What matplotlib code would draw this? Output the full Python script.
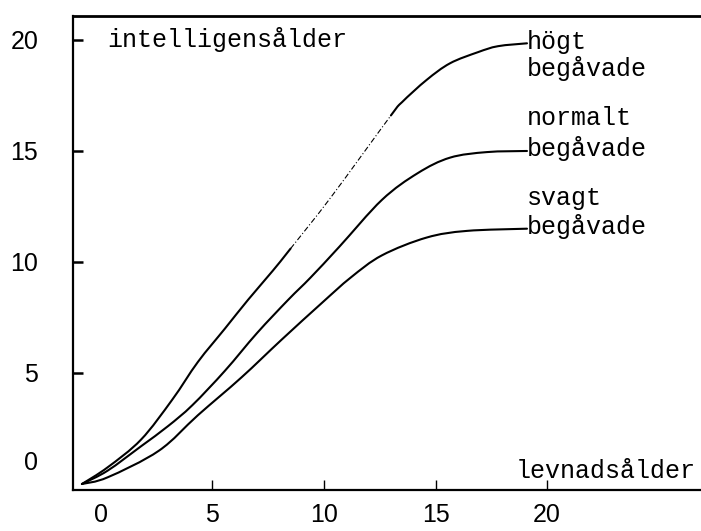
import matplotlib
matplotlib.use("Agg")
import matplotlib.pyplot as plt
import matplotlib.transforms as mtransforms
from matplotlib.path import Path
from matplotlib.patches import PathPatch

# --- data ---
high_x = [-0.85, 0.3, 1.8, 3.2, 4.35, 5.56, 6.6, 7.7, 8.5, 10.3, 13.0, 13.5, 14.6, 15.65, 16.9, 17.8, 19.1]
high_y = [0.0, 0.75, 2.0, 3.8, 5.5, 7.0, 8.3, 9.6, 10.6, 12.9, 16.6, 17.2, 18.2, 18.95, 19.45, 19.72, 19.85]
normal_x = [-0.85, 0.3, 1.8, 3.0, 4.1, 5.56, 7.0, 8.4, 9.4, 10.7, 12.6, 14.2, 15.65, 17.3, 19.1]
normal_y = [0.0, 0.6, 1.7, 2.6, 3.55, 5.1, 6.8, 8.3, 9.3, 10.7, 12.8, 14.0, 14.7, 14.95, 15.0]
weak_x = [-0.85, 0.3, 2.6, 4.35, 6.3, 8.1, 9.9, 11.2, 12.6, 14.6, 16.4, 19.1]
weak_y = [0.0, 0.3, 1.5, 3.1, 4.8, 6.5, 8.15, 9.3, 10.3, 11.1, 11.4, 11.5]

x_ticks = [0, 5, 10, 15, 20]
y_ticks = [0, 5, 10, 15, 20]
x_ticklabels = ["0", "5", "10", "15", "20"]
y_ticklabels = ["0", "5", "10", "15", "20"]

y_label = "intelligensålder"
x_label = "levnadsålder"
series_labels = [("högt", "begåvade"), ("normalt", "begåvade"), ("svagt", "begåvade")]

mono = "Liberation Mono"
sans = "Liberation Sans"


def smooth_path(xs, ys, i0=0, i1=None):
    """Smooth (Catmull-Rom as cubic Bezier) path through the points i0..i1."""
    n = len(xs)
    if i1 is None:
        i1 = n - 1
    pts = list(zip(xs, ys))
    verts = [pts[i0]]
    codes = [Path.MOVETO]
    for i in range(i0, i1):
        p0 = pts[max(i - 1, 0)]
        p1 = pts[i]
        p2 = pts[i + 1]
        p3 = pts[min(i + 2, n - 1)]
        c1 = (p1[0] + (p2[0] - p0[0]) / 6, p1[1] + (p2[1] - p0[1]) / 6)
        c2 = (p2[0] - (p3[0] - p1[0]) / 6, p2[1] - (p3[1] - p1[1]) / 6)
        verts += [c1, c2, p2]
        codes += [Path.CURVE4] * 3
    return Path(verts, codes)


fig = plt.figure(figsize=(7.01, 5.31), dpi=100)
ax = fig.add_axes([73 / 701, 41 / 531, 628 / 701, 474 / 531])
ax.set_xlim(-1.25, 26.9)
ax.set_ylim(-0.27, 21.08)

lw = 1.5
solid = dict(fill=False, edgecolor="black", lw=lw, capstyle="round", joinstyle="round")
ax.add_patch(PathPatch(smooth_path(high_x, high_y, 0, 8), **solid))
ax.add_patch(PathPatch(smooth_path(high_x, high_y, 8, 10), fill=False, edgecolor="black",
                       lw=0.8, ls=(0, (5, 2, 1, 2))))
ax.add_patch(PathPatch(smooth_path(high_x, high_y, 10), **solid))
ax.add_patch(PathPatch(smooth_path(normal_x, normal_y), **solid))
ax.add_patch(PathPatch(smooth_path(weak_x, weak_y), **solid))

for s in ["left", "bottom"]:
    ax.spines[s].set_linewidth(1.6)
ax.spines["top"].set_linewidth(2.0)
ax.spines["right"].set_visible(False)

ax.set_xticks(x_ticks)
ax.set_xticklabels(x_ticklabels, fontfamily=sans, fontsize=18)
ax.set_yticks(y_ticks)
ax.set_yticklabels(y_ticklabels, fontfamily=sans, fontsize=18)
ax.tick_params(axis="x", direction="in", length=7, width=1, pad=9)
ax.tick_params(axis="y", direction="in", length=7, width=1.8, pad=25)
ax.yaxis.get_major_ticks()[0].tick1line.set_visible(False)
ax.xaxis.get_major_ticks()[0].tick1line.set_visible(False)
# label "0" on y sits somewhat above the axis
lab0 = ax.get_yticklabels()[0]
lab0.set_transform(lab0.get_transform() + mtransforms.ScaledTranslation(0, 24 / 100, fig.dpi_scale_trans))

ax.text(0.3, 20.0, y_label, fontfamily=mono, fontsize=18, ha="left", va="center")
ax.text(18.6, 0.6, x_label, fontfamily=mono, fontsize=18, ha="left", va="center")

label_pos = [(19.1, 19.9, 18.7), (19.1, 16.5, 15.1), (19.1, 12.9, 11.6)]
for (l1, l2), (tx, y1, y2) in zip(series_labels, label_pos):
    ax.text(tx, y1, l1, fontfamily=mono, fontsize=18, ha="left", va="center")
    ax.text(tx, y2, l2, fontfamily=mono, fontsize=18, ha="left", va="center")

fig.savefig("out.png", dpi=100)
